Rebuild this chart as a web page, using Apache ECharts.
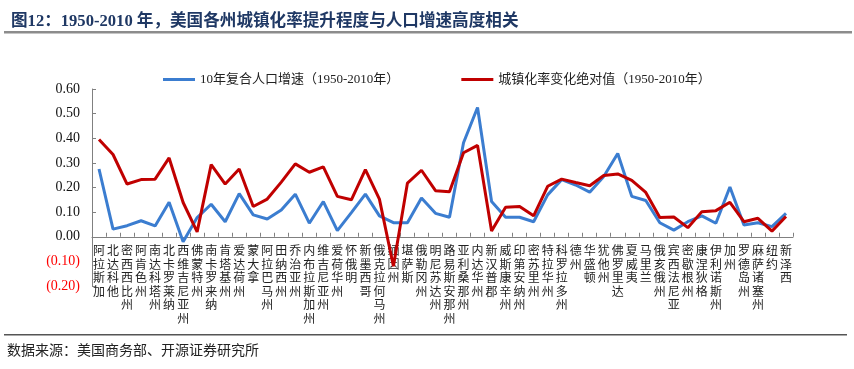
<!DOCTYPE html>
<html>
<head>
<meta charset="utf-8">
<script src="https://cdn.jsdelivr.net/npm/echarts@6/dist/echarts.min.js"></script>
<style>
  html, body { margin: 0; padding: 0; background: #fff; }
  #chart { width: 854px; height: 369px; }
</style>
</head>
<body>
<div id="chart"></div>
<script>
const titleText = '图12：1950-2010 年，美国各州城镇化率提升程度与人口增速高度相关';
const sourceText = '数据来源：美国商务部、开源证券研究所';
const seriesNames = ['10年复合人口增速（1950-2010年）', '城镇化率变化绝对值（1950-2010年）'];

const states = [
    '阿拉斯加', '北达科他', '密西西比州', '阿肯色州', '南达科塔州', '北卡罗莱纳', '西维吉尼亚州', '佛蒙特州',
    '南卡罗来纳', '肯塔基州', '爱达荷州', '蒙大拿', '阿拉巴马州', '田纳西州', '乔治亚州', '内布拉斯加州',
    '维吉尼亚州', '爱荷华州', '怀俄明', '新墨西哥', '俄克拉何马州', '缅因州', '堪萨斯', '俄勒冈州',
    '明尼苏达州', '路易斯安那州', '亚利桑那州', '内达华州', '新汉普郡', '威斯康辛州', '印第安纳州', '密苏里州',
    '特拉华州', '科罗拉多州', '德州', '华盛顿', '犹他州', '佛罗里达', '夏威夷', '马里兰',
    '俄亥俄州', '宾西法尼亚', '密歇根州', '康涅狄格', '伊利诺斯州', '加州', '罗德岛州', '麻萨诸塞州',
    '纽约', '新泽西'
];

// 10年复合人口增速
const popGrowth = [
    0.275, 0.031, 0.045, 0.065, 0.044, 0.140, -0.020, 0.078, 0.132, 0.061,
    0.175, 0.089, 0.072, 0.109, 0.173, 0.055, 0.143, 0.025, 0.098, 0.173,
    0.085, 0.057, 0.057, 0.157, 0.095, 0.079, 0.382, 0.525, 0.143, 0.079,
    0.079, 0.061, 0.170, 0.232, 0.210, 0.181, 0.245, 0.338, 0.164, 0.147,
    0.057, 0.027, 0.061, 0.085, 0.055, 0.202, 0.048, 0.057, 0.041, 0.095
];

// 城镇化率变化绝对值
const urbanChange = [
    0.395, 0.334, 0.214, 0.232, 0.234, 0.320, 0.139, 0.020, 0.293, 0.214,
    0.275, 0.123, 0.153, 0.222, 0.296, 0.262, 0.284, 0.164, 0.150, 0.273,
    0.153, -0.120, 0.218, 0.270, 0.187, 0.183, 0.341, 0.371, 0.023, 0.120,
    0.123, 0.085, 0.205, 0.234, 0.220, 0.207, 0.249, 0.255, 0.229, 0.180,
    0.078, 0.080, 0.037, 0.102, 0.106, 0.140, 0.061, 0.075, 0.023, 0.082
];

const serifFont = '"Liberation Serif", "Noto Sans CJK SC", serif';
const cjkFont = '"Noto Sans CJK SC", sans-serif';
const BLUE = '#3B7DD0';
const RED = '#C00000';

const chart = echarts.init(document.getElementById('chart'));

const makeLine = (name, data, color) => ({
    name,
    type: 'line',
    data,
    showSymbol: false,
    symbol: 'none',
    lineStyle: { color, width: 3 },
    itemStyle: { color },
    animation: false
});

chart.setOption({
    animation: false,
    title: {
        text: titleText,
        left: 6,
        top: 8,
        textStyle: { fontFamily: serifFont, fontSize: 16.6, fontWeight: 'bold', color: '#1F3864' }
    },
    graphic: [
        { type: 'rect', shape: { x: 4, y: 31, width: 848, height: 2.5 }, style: { fill: '#8C8C8C' } },
        { type: 'rect', shape: { x: 4, y: 334, width: 843, height: 1.5 }, style: { fill: '#555' } },
        {
            type: 'text', left: 7, top: 343,
            style: { text: sourceText, font: '14px "Noto Sans CJK SC"', fill: '#222' }
        }
    ],
    legend: {
        left: 158,
        top: 68,
        icon: 'rect',
        itemWidth: 32,
        itemHeight: 3,
        itemGap: 62,
        textStyle: { fontFamily: serifFont, fontSize: 13, color: '#222' },
        data: seriesNames
    },
    grid: { left: 92, right: 61, top: 89, bottom: 83 },
    xAxis: {
        type: 'category',
        data: states,
        boundaryGap: true,
        axisLine: { onZero: true, lineStyle: { color: '#808080', width: 1 } },
        axisTick: { show: true, inside: true, length: 4, lineStyle: { color: '#808080' } },
        axisLabel: {
            interval: 0,
            margin: -42,
            fontFamily: cjkFont,
            fontSize: 12,
            lineHeight: 13.5,
            color: '#222',
            formatter: (v) => v.split('').join('\n')
        }
    },
    yAxis: {
        type: 'value',
        min: -0.2,
        max: 0.6,
        interval: 0.1,
        splitLine: { show: false },
        axisLine: { show: true, onZero: false, lineStyle: { color: '#808080', width: 1 } },
        axisTick: { show: true, inside: true, length: 4, lineStyle: { color: '#808080' } },
        axisLabel: {
            margin: 12,
            fontFamily: serifFont,
            fontSize: 14,
            formatter: (v) => v < -1e-9 ? '{neg|(' + Math.abs(v).toFixed(2) + ')}' : '{pos|' + v.toFixed(2) + '}',
            rich: {
                pos: { color: '#111', fontFamily: serifFont, fontSize: 14 },
                neg: { color: '#FF0000', fontFamily: serifFont, fontSize: 14 }
            }
        }
    },
    series: [
        makeLine(seriesNames[0], popGrowth, BLUE),
        makeLine(seriesNames[1], urbanChange, RED)
    ]
});
</script>
</body>
</html>
